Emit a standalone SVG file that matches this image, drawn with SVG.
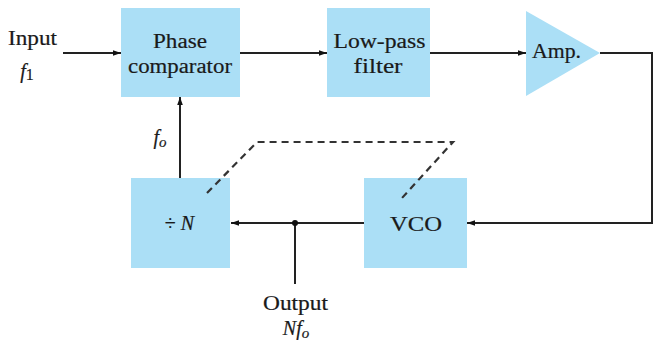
<svg xmlns="http://www.w3.org/2000/svg" width="654" height="349" viewBox="0 0 654 349">
<style>
.blk{fill:#abdff6;stroke:none}
.t{font-family:"Liberation Serif","Times New Roman",serif;font-size:20px;fill:#1a1a1a;stroke:#1a1a1a;stroke-width:0.2;text-anchor:middle}
.i{font-style:italic}
.w{stroke:#222;stroke-width:2;fill:none}
.d{stroke:#333;stroke-width:2.2;fill:none;stroke-dasharray:7,5}
</style>
<defs>
<marker id="ah" viewBox="0 0 10 10" refX="10" refY="5" markerWidth="12" markerHeight="8" markerUnits="userSpaceOnUse" orient="auto">
<path d="M0,1.5 L10,5 L0,8.5 z" fill="#111"/>
</marker>
</defs>
<rect width="654" height="349" fill="#fff"/>
<g id="input">
<text class="t" x="32.5" y="45" textLength="49" lengthAdjust="spacingAndGlyphs">Input</text>
<text class="t i" x="27" y="78">f<tspan font-style="normal" font-size="16" dy="2">1</tspan></text>
</g>
<g id="phase-comparator">
<rect class="blk" x="121" y="8" width="119" height="89"/>
<text class="t" x="180" y="48" textLength="54" lengthAdjust="spacingAndGlyphs">Phase</text>
<text class="t" x="180" y="73" textLength="104" lengthAdjust="spacingAndGlyphs">comparator</text>
</g>
<g id="low-pass-filter">
<rect class="blk" x="327" y="8" width="103" height="89"/>
<text class="t" x="379.5" y="48" textLength="92" lengthAdjust="spacingAndGlyphs">Low-pass</text>
<text class="t" x="378" y="73" textLength="49" lengthAdjust="spacingAndGlyphs">filter</text>
</g>
<g id="amp">
<polygon class="blk" points="526,11 600,53 526,96"/>
<text class="t" x="556.5" y="58" textLength="49" lengthAdjust="spacingAndGlyphs">Amp.</text>
</g>
<g id="vco">
<rect class="blk" x="364" y="178" width="103" height="90"/>
<text class="t" x="416" y="231" textLength="52" lengthAdjust="spacingAndGlyphs">VCO</text>
</g>
<g id="divider">
<rect class="blk" x="131" y="178" width="99" height="90"/>
<text class="t" x="179.5" y="230">÷ <tspan class="i">N</tspan></text>
</g>
<g id="fo-label">
<text class="t i" x="160" y="144">f<tspan font-size="15" dy="3">o</tspan></text>
</g>
<g id="output">
<text class="t" x="295.5" y="310" textLength="65" lengthAdjust="spacingAndGlyphs">Output</text>
<text class="t i" x="296" y="335">Nf<tspan font-size="15" dy="3">o</tspan></text>
</g>
<g id="connectors">
<line class="w" x1="63" y1="53" x2="121" y2="53" marker-end="url(#ah)"/>
<line class="w" x1="240" y1="53" x2="327" y2="53" marker-end="url(#ah)"/>
<line class="w" x1="430" y1="53" x2="526" y2="53" marker-end="url(#ah)"/>
<polyline class="w" points="600,53 652,53 652,223 467,223" marker-end="url(#ah)"/>
<line class="w" x1="364" y1="223" x2="231" y2="223" marker-end="url(#ah)"/>
<line class="w" x1="295" y1="223" x2="295" y2="284"/>
<circle cx="295" cy="223" r="3" fill="#111"/>
<line class="w" x1="180" y1="178" x2="180" y2="97" marker-end="url(#ah)"/>
<polyline class="d" points="207,193 257,142 453,142 402,198"/>
</g>
</svg>
